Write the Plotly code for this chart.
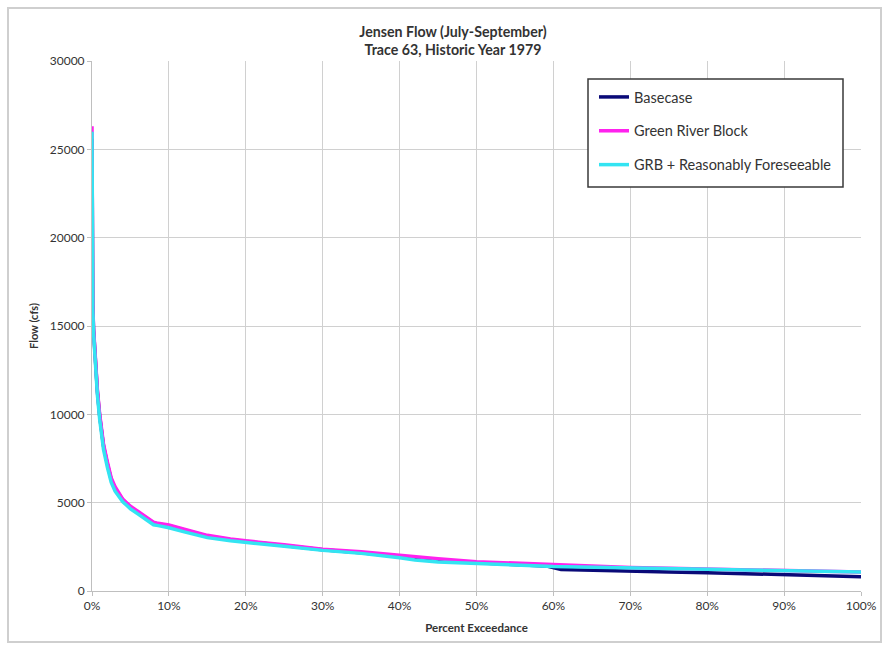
import plotly.graph_objects as go

# Exceedance curves (percent of time flow is equalled or exceeded)
base_pct = [0, 0.02, 0.05, 0.1, 0.2, 0.4, 0.7, 1.0, 1.5, 2.0, 2.5, 3.0, 4.0, 4.5, 5, 6, 7, 8, 8.6,
            10, 12, 15, 18, 20, 25, 30, 35, 40, 45, 50, 55, 59, 61, 65, 70, 75, 80, 85, 90, 95, 100]
base_flow = [25600, 21800, 18400, 16200, 14800, 13000, 11300, 9900, 8200, 7200, 6300, 5800, 5150, 4950,
             4750, 4450, 4150, 3850, 3800, 3700, 3450, 3100, 2900, 2800, 2580, 2330, 2170, 1950, 1720,
             1600, 1500, 1420, 1220, 1170, 1120, 1080, 1040, 980, 910, 860, 810]

grb_pct = [0, 0.02, 0.05, 0.1, 0.2, 0.4, 0.7, 1.0, 1.5, 2.0, 2.5, 3.0, 4.0, 4.5, 5, 6, 7, 8, 8.6,
           10, 12, 15, 18, 20, 25, 30, 35, 40, 45, 50, 55, 60, 65, 70, 75, 80, 85, 90, 95, 100]
grb_flow = [26300, 22100, 18600, 16400, 14900, 13100, 11400, 10000, 8300, 7300, 6400, 5900, 5200, 5000,
            4800, 4500, 4200, 3900, 3830, 3740, 3500, 3150, 2950, 2840, 2620, 2360, 2220, 2000, 1820,
            1660, 1570, 1480, 1400, 1330, 1290, 1240, 1200, 1150, 1110, 1070]

rf_pct = [0, 0.02, 0.05, 0.1, 0.2, 0.4, 0.7, 1.0, 1.5, 2.0, 2.5, 3.0, 4.0, 4.5, 5, 6, 7, 8, 8.6,
          10, 12, 15, 18, 20, 25, 30, 35, 40, 42, 45, 50, 55, 60, 65, 70, 75, 80, 85, 90, 95, 100]
rf_flow = [26000, 21600, 18200, 16000, 14600, 12800, 11100, 9700, 8000, 7000, 6150, 5650, 5050, 4850,
           4650, 4350, 4050, 3750, 3700, 3580, 3350, 3020, 2840, 2740, 2530, 2300, 2130, 1880, 1750,
           1640, 1570, 1470, 1380, 1330, 1290, 1260, 1230, 1190, 1150, 1110, 1080]

x_ticks = [0, 10, 20, 30, 40, 50, 60, 70, 80, 90, 100]
x_tick_text = ["0%", "10%", "20%", "30%", "40%", "50%", "60%", "70%", "80%", "90%", "100%"]
y_ticks = [0, 5000, 10000, 15000, 20000, 25000, 30000]
y_tick_text = ["0", "5000", "10000", "15000", "20000", "25000", "30000"]

FONT = "Lato, 'DejaVu Sans', sans-serif"
TEXT = "#333333"

series = [
    ("Basecase", base_pct, base_flow, "#0a0a78"),
    ("Green River Block", grb_pct, grb_flow, "#ff22ee"),
    ("GRB + Reasonably Foreseeable", rf_pct, rf_flow, "#33e4f2"),
]

fig = go.Figure()
for i, (name, xs, ys, color) in enumerate(series):
    fig.add_trace(go.Scatter(
        x=xs, y=ys, mode="lines", name=name,
        line=dict(color=color, width=3.5),
        legendgroup=f"g{i}",
    ))

W, H = 885, 646
L, R, T, B = 92, 24, 61, 55
pw, ph = W - L - R, H - T - B


def px_x(px):
    return (px - L) / pw


def px_y(py):
    return (H - B - py) / ph


fig.update_layout(
    width=W, height=H,
    margin=dict(l=L, r=R, t=T, b=B, autoexpand=False),
    paper_bgcolor="white", plot_bgcolor="white",
    font=dict(family=FONT, color=TEXT),
    title=dict(
        text="<b>Jensen Flow (July-September)</b><br><b>Trace 63, Historic Year 1979</b>",
        x=px_x(453), xref="paper", xanchor="center",
        y=1 - 37 / H, yref="container", yanchor="top",
        font=dict(size=14.2, color=TEXT),
    ),
    showlegend=True,
    legend=dict(
        x=px_x(594), y=px_y(81), xanchor="left", yanchor="top",
        bgcolor="rgba(0,0,0,0)", borderwidth=0,
        font=dict(size=14.5, color=TEXT),
        traceorder="grouped", tracegroupgap=12,
        itemwidth=30,
    ),
    xaxis=dict(
        range=[0, 100], tickvals=x_ticks, ticktext=x_tick_text,
        showgrid=True, gridcolor="#d0d0d0", gridwidth=1,
        showline=True, linecolor="#bfbfbf", linewidth=1,
        ticks="outside", ticklen=4, tickcolor="#bfbfbf",
        tickfont=dict(size=12, color=TEXT),
        title=dict(text="<b>Percent Exceedance</b>", font=dict(size=11.5, color=TEXT), standoff=11),
        zeroline=False, automargin=False,
    ),
    yaxis=dict(
        range=[0, 30000], tickvals=y_ticks, ticktext=y_tick_text,
        showgrid=True, gridcolor="#d0d0d0", gridwidth=1,
        showline=True, linecolor="#bfbfbf", linewidth=1,
        ticks="outside", ticklen=4, tickcolor="#bfbfbf",
        tickfont=dict(size=12, color=TEXT),
        title=dict(text="<b>Flow (cfs)</b>", font=dict(size=11, color=TEXT), standoff=8),
        zeroline=False, automargin=False,
    ),
    shapes=[
        # outer chart frame
        dict(type="rect", xref="paper", yref="paper",
             x0=px_x(8), x1=px_x(881), y0=px_y(642), y1=px_y(8),
             line=dict(color="#cfcfcf", width=2), fillcolor="rgba(0,0,0,0)", layer="below"),
        # legend box
        dict(type="rect", xref="paper", yref="paper",
             x0=px_x(588), x1=px_x(843), y0=px_y(187), y1=px_y(79),
             line=dict(color="#3a3a3a", width=1.5), fillcolor="white", layer="above"),
    ],
)

fig.write_html("out.html")
